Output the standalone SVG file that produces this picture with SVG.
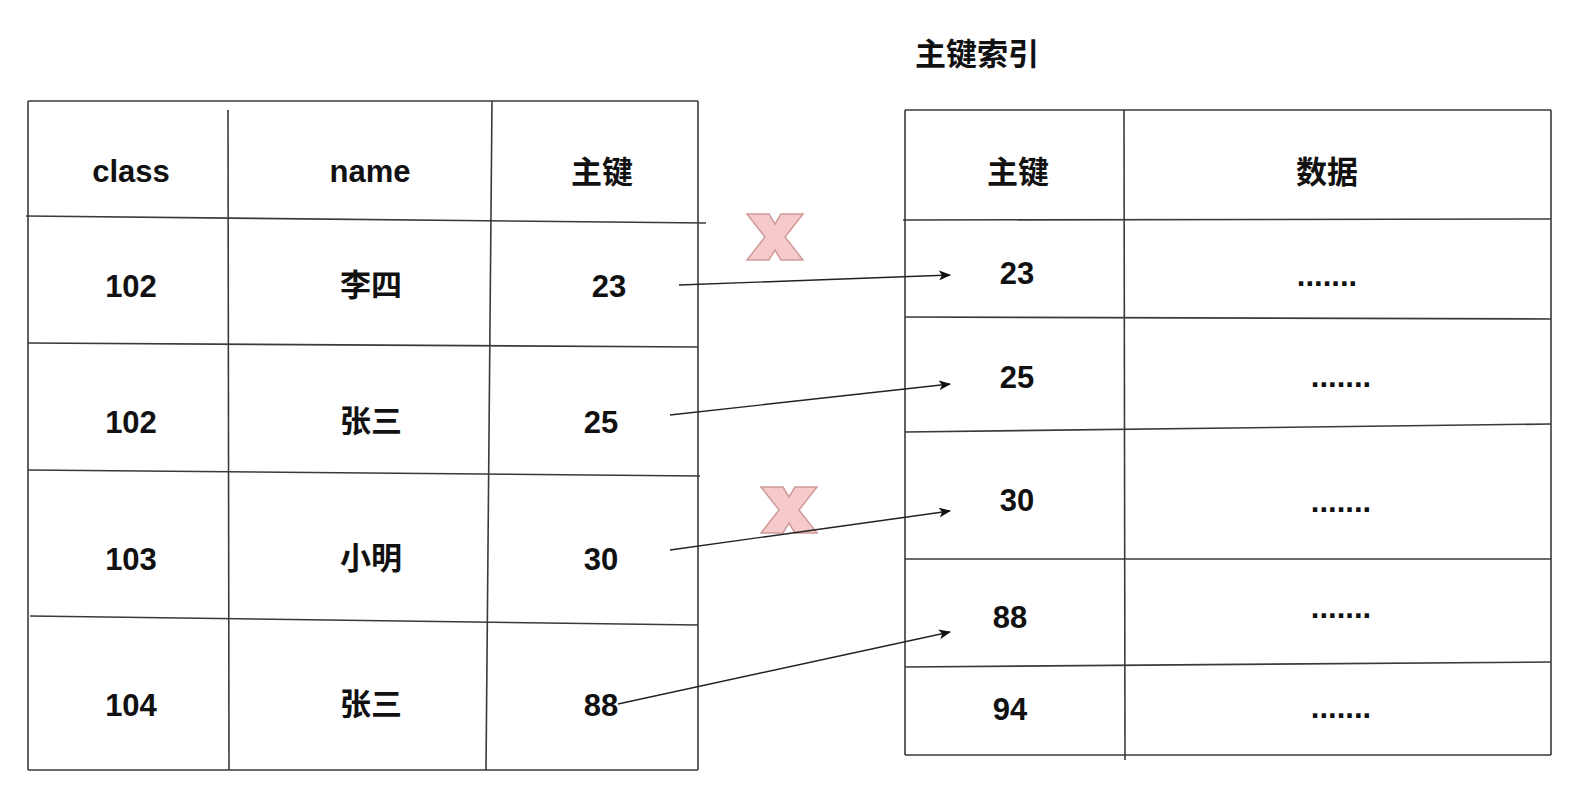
<svg xmlns="http://www.w3.org/2000/svg" width="1584" height="796" viewBox="0 0 1584 796">
<defs>
<style>
.ln{stroke:#3a3a3a;stroke-width:1.6;fill:none}
.t{font-family:"Liberation Sans","Noto Sans CJK SC",Arial,sans-serif;font-weight:bold;font-size:31px;fill:#111;text-anchor:middle}
.cj{font-family:"Liberation Sans","Noto Sans CJK SC",sans-serif;font-weight:bold;font-size:31px;fill:#111;text-anchor:middle}
.ar{stroke:#222;stroke-width:1.4;fill:none;marker-end:url(#ah)}
.x{fill:#f6caca;stroke:#cf9a9a;stroke-width:1.5}
</style>
<marker id="ah" viewBox="0 0 12 10" refX="11" refY="5" markerWidth="12" markerHeight="10" markerUnits="userSpaceOnUse" orient="auto">
<path d="M0,0 L12,5 L0,10 L3,5 Z" fill="#111"/>
</marker>
<polygon id="xm" points="0,0 22,0 28,10 34,0 56,0 38,23 56,46 34,46 28,36 22,46 0,46 18,23"/>
</defs>
<rect width="1584" height="796" fill="#ffffff"/>

<text class="cj" x="977" y="65">主键索引</text>

<g id="left-table">
<line class="ln" x1="28" y1="101" x2="698" y2="101"/>
<line class="ln" x1="28" y1="101" x2="28" y2="770"/>
<line class="ln" x1="698" y1="101" x2="698" y2="770"/>
<line class="ln" x1="28" y1="770" x2="698" y2="770"/>
<line class="ln" x1="228" y1="110" x2="229" y2="770"/>
<line class="ln" x1="492" y1="101" x2="486" y2="770"/>
<line class="ln" x1="26" y1="216" x2="706" y2="223"/>
<line class="ln" x1="28" y1="343" x2="698" y2="347"/>
<line class="ln" x1="28" y1="470" x2="700" y2="476"/>
<line class="ln" x1="30" y1="616" x2="698" y2="625"/>
<text class="t" x="131" y="182">class</text>
<text class="t" x="370" y="182">name</text>
<text class="cj" x="602" y="183">主键</text>
<text class="t" x="131" y="297">102</text>
<text class="cj" x="371" y="296">李四</text>
<text class="t" x="609" y="297">23</text>
<text class="t" x="131" y="433">102</text>
<text class="cj" x="371" y="432">张三</text>
<text class="t" x="601" y="433">25</text>
<text class="t" x="131" y="570">103</text>
<text class="cj" x="371" y="569">小明</text>
<text class="t" x="601" y="570">30</text>
<text class="t" x="131" y="716">104</text>
<text class="cj" x="371" y="715">张三</text>
<text class="t" x="601" y="716">88</text>
</g>

<g id="right-table">
<line class="ln" x1="905" y1="110" x2="1551" y2="110"/>
<line class="ln" x1="905" y1="110" x2="905" y2="755"/>
<line class="ln" x1="1551" y1="110" x2="1551" y2="755"/>
<line class="ln" x1="905" y1="755" x2="1551" y2="755"/>
<line class="ln" x1="1124" y1="110" x2="1125" y2="760"/>
<line class="ln" x1="903" y1="220" x2="1551" y2="219"/>
<line class="ln" x1="905" y1="317" x2="1551" y2="319"/>
<line class="ln" x1="905" y1="432" x2="1551" y2="424"/>
<line class="ln" x1="905" y1="559" x2="1551" y2="559"/>
<line class="ln" x1="905" y1="667" x2="1551" y2="662"/>
<text class="cj" x="1018" y="183">主键</text>
<text class="cj" x="1327" y="183">数据</text>
<text class="t" x="1017" y="284">23</text>
<text class="t" x="1327" y="286">.......</text>
<text class="t" x="1017" y="388">25</text>
<text class="t" x="1341" y="387">.......</text>
<text class="t" x="1017" y="511">30</text>
<text class="t" x="1341" y="512">.......</text>
<text class="t" x="1010" y="628">88</text>
<text class="t" x="1341" y="618">.......</text>
<text class="t" x="1010" y="720">94</text>
<text class="t" x="1341" y="718">.......</text>
</g>

<g id="marks">
<use href="#xm" class="x" transform="translate(747,214)"/>
<use href="#xm" class="x" transform="translate(761,487)"/>
</g>

<g id="connectors">
<line class="ar" x1="679" y1="285" x2="950" y2="275"/>
<line class="ar" x1="670" y1="415" x2="950" y2="384"/>
<line class="ar" x1="670" y1="550" x2="950" y2="511"/>
<line class="ar" x1="618" y1="704" x2="950" y2="632"/>
</g>
</svg>
